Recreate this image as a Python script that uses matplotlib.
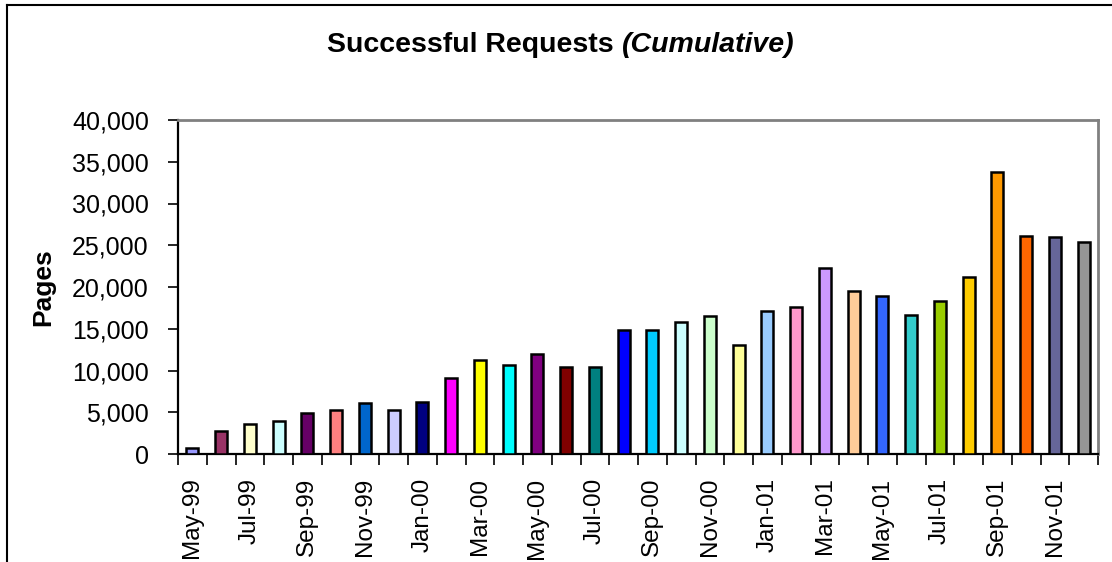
import numpy as np
import matplotlib
matplotlib.use("Agg")
import matplotlib.pyplot as plt
from matplotlib.lines import Line2D
from matplotlib.ticker import FuncFormatter

plt.rcParams['font.family'] = ['Liberation Sans', 'DejaVu Sans']

# monthly cumulative successful requests, May-99 .. Dec-01
months = ['May-99', 'Jun-99', 'Jul-99', 'Aug-99', 'Sep-99', 'Oct-99', 'Nov-99', 'Dec-99',
          'Jan-00', 'Feb-00', 'Mar-00', 'Apr-00', 'May-00', 'Jun-00', 'Jul-00', 'Aug-00',
          'Sep-00', 'Oct-00', 'Nov-00', 'Dec-00', 'Jan-01', 'Feb-01', 'Mar-01', 'Apr-01',
          'May-01', 'Jun-01', 'Jul-01', 'Aug-01', 'Sep-01', 'Oct-01', 'Nov-01', 'Dec-01']
pages = [750, 2800, 3550, 3900, 4900, 5250, 6150, 5250,
         6200, 9050, 11200, 10700, 12000, 10450, 10450, 14800,
         14850, 15850, 16500, 13100, 17100, 17600, 22300, 19500,
         18950, 16650, 18300, 21200, 33750, 26050, 26000, 25400]
bar_colors = ['#9999FF', '#993366', '#FFFFCC', '#CCFFFF', '#660066', '#FF8080', '#0066CC', '#CCCCFF',
              '#000080', '#FF00FF', '#FFFF00', '#00FFFF', '#800080', '#800000', '#008080', '#0000FF',
              '#00CCFF', '#CCFFFF', '#CCFFCC', '#FFFF99', '#99CCFF', '#FF99CC', '#CC99FF', '#FFCC99',
              '#3366FF', '#33CCCC', '#99CC00', '#FFCC00', '#FF9900', '#FF6600', '#666699', '#969696']

W, H = 1112, 562
fig = plt.figure(figsize=(W / 100, H / 100), dpi=100)
ax = fig.add_axes([178 / W, 1 - 454 / H, 920 / W, 334 / H])

x = np.arange(len(months))
ax.bar(x, pages, width=0.42, color=bar_colors, edgecolor='black', linewidth=1.8, zorder=3)

ax.set_xlim(-0.5, len(months) - 0.5)
ax.set_ylim(0, 40000)
ax.set_yticks(np.arange(0, 40001, 5000))
ax.yaxis.set_major_formatter(FuncFormatter(lambda v, p: f'{int(v):,}'))

ax.set_xticks(x[::2])
ax.set_xticklabels(months[::2], rotation=90, va='top')
ax.set_xticks(np.arange(-0.5, len(months)), minor=True)
ax.tick_params(axis='x', which='major', length=0, pad=17, labelsize=17.5)
ax.tick_params(axis='x', which='minor', length=8, width=1.2, direction='out')
ax.tick_params(axis='y', length=7, width=1.2, direction='out', pad=14, labelsize=18)

for side in ['left', 'bottom']:
    ax.spines[side].set_color('black')
    ax.spines[side].set_linewidth(1.6)
for side in ['top', 'right']:
    ax.spines[side].set_color('#808080')
    ax.spines[side].set_linewidth(2)

ax.set_ylabel('Pages', fontsize=19, fontweight='bold', labelpad=12)

# title: bold part + bold italic part, centred together
ty = 1 - 45 / H
t1 = fig.text(0, ty, 'Successful Requests ', fontsize=20.5, fontweight='bold',
              ha='left', va='center')
t2 = fig.text(0, ty, '(Cumulative)', fontsize=20.5, fontweight='bold', style='italic',
              ha='left', va='center')
r = fig.canvas.get_renderer()
w1 = t1.get_window_extent(r).width
w2 = t2.get_window_extent(r).width
x0 = 561 - (w1 + w2) / 2
t1.set_x(x0 / W)
t2.set_x((x0 + w1) / W)

# outer chart frame (chart area border)
fig.add_artist(Line2D([7 / W, 7 / W], [0, 1 - 5 / H], transform=fig.transFigure,
                      color='black', linewidth=1.5))
fig.add_artist(Line2D([7 / W, 1], [1 - 5 / H, 1 - 5 / H], transform=fig.transFigure,
                      color='black', linewidth=1.5))

fig.savefig('out.png', dpi=100)
